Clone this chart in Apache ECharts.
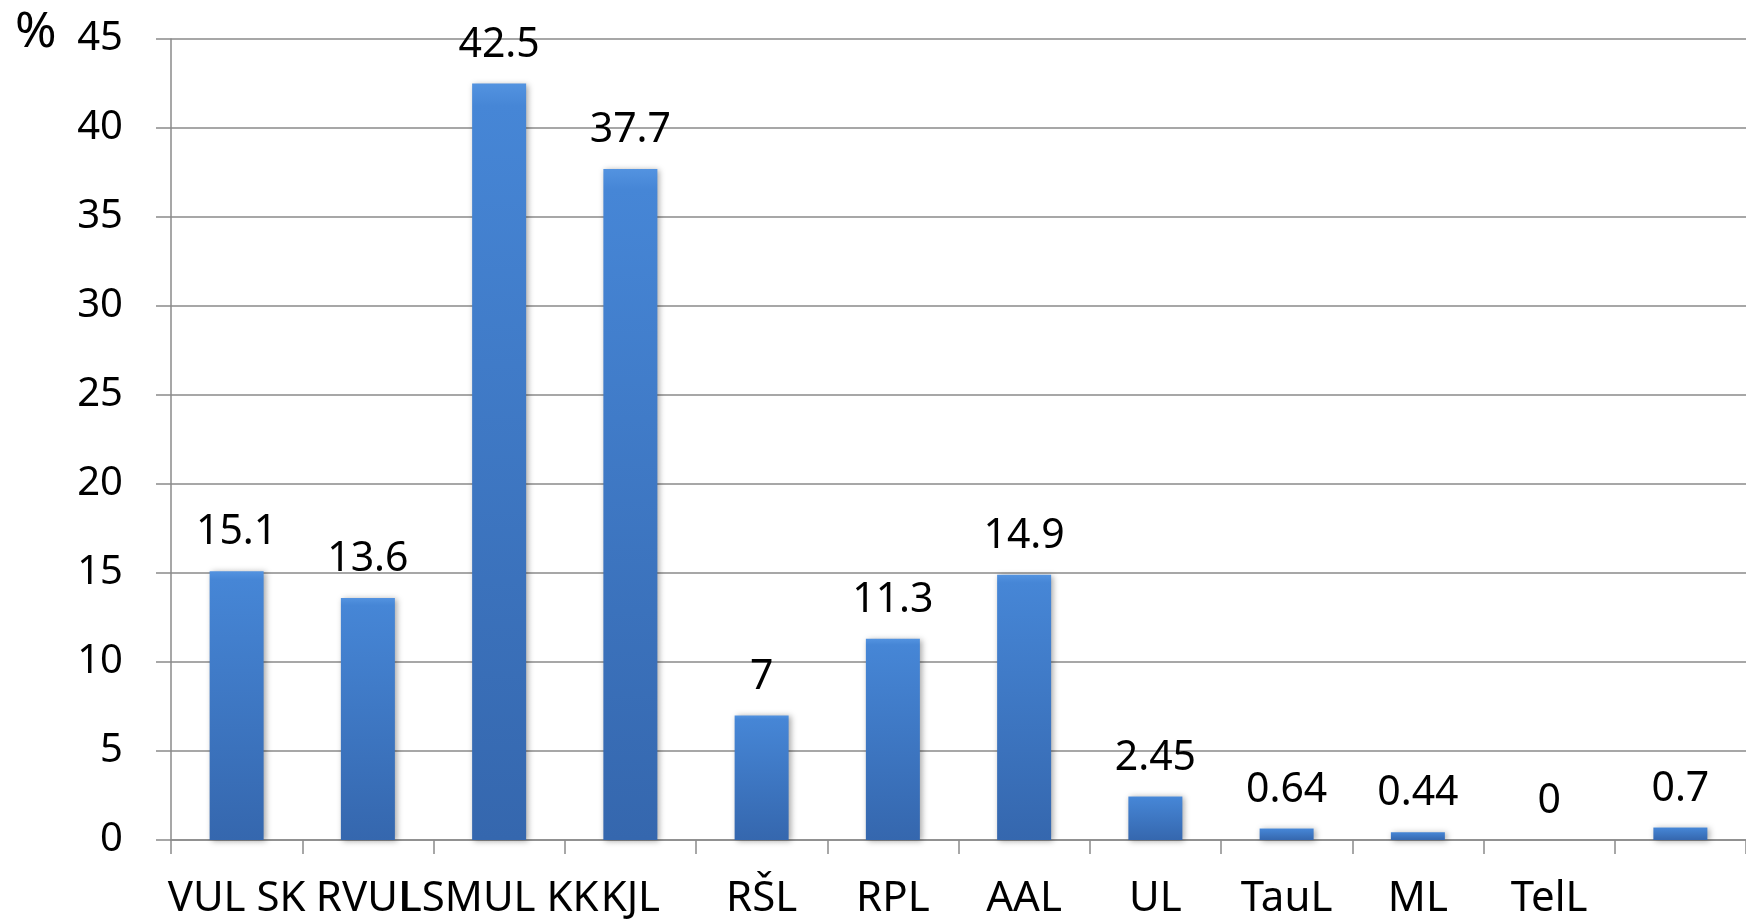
<!DOCTYPE html>
<html>
<head>
<meta charset="utf-8">
<script src="https://cdn.jsdelivr.net/npm/echarts@6/dist/echarts.min.js"></script>
<style>
html,body{margin:0;padding:0;background:#fff;}
#chart{width:1746px;height:921px;}
</style>
</head>
<body>
<div id="chart"></div>
<script>
const categories = ['VUL SK', 'RVUL', 'LSMUL KK', 'KJL', 'RŠL', 'RPL', 'AAL', 'UL', 'TauL', 'ML', 'TelL', ''];
const values = [15.1, 13.6, 42.5, 37.7, 7, 11.3, 14.9, 2.45, 0.64, 0.44, 0, 0.7];
const yTicks = { min: 0, max: 45, interval: 5 };
const unitLabel = '%';

const FONT = '"Noto Sans", "DejaVu Sans", sans-serif';
const chart = echarts.init(document.getElementById('chart'), null, { renderer: 'canvas' });

chart.setOption({
  backgroundColor: '#ffffff',
  animation: false,
  graphic: [{
    type: 'text',
    left: 15,
    top: 8,
    style: { text: unitLabel, fontSize: 50, fontFamily: FONT, fill: '#000' }
  }],
  grid: { left: 171, top: 39, width: 1582, bottom: 81, containLabel: false },
  xAxis: {
    type: 'category',
    data: categories,
    boundaryGap: true,
    axisLine: { show: true, lineStyle: { color: '#8a8a8a', width: 1.5 } },
    axisTick: { show: true, alignWithLabel: false, length: 14, lineStyle: { color: '#8a8a8a', width: 1.5 } },
    axisLabel: {
      interval: 0,
      margin: 38,
      color: '#000',
      fontSize: 42,
      fontFamily: FONT,
      hideOverlap: false,
      overflow: 'none'
    }
  },
  yAxis: {
    type: 'value',
    min: yTicks.min,
    max: yTicks.max,
    interval: yTicks.interval,
    axisLine: { show: true, lineStyle: { color: '#8a8a8a', width: 1.5 } },
    axisTick: { show: true, length: 15, lineStyle: { color: '#8a8a8a', width: 1.5 } },
    splitLine: { show: true, lineStyle: { color: '#8a8a8a', width: 1.5 } },
    axisLabel: { margin: 48, color: '#000', fontSize: 40, fontFamily: FONT }
  },
  series: [{
    type: 'bar',
    data: values,
    barWidth: 54,
    itemStyle: {
      color: new echarts.graphic.LinearGradient(0, 0, 0, 1, [
        { offset: 0, color: '#5393e0' },
        { offset: 0.03, color: '#4686d6' },
        { offset: 1, color: '#3567ae' }
      ]),
      borderWidth: 0,
      shadowColor: 'rgba(0,0,0,0.35)',
      shadowBlur: 6,
      shadowOffsetX: 2,
      shadowOffsetY: 1
    },
    label: {
      show: true,
      position: 'top',
      distance: 18,
      color: '#000',
      fontSize: 41,
      fontFamily: FONT
    }
  }]
});
</script>
</body>
</html>
